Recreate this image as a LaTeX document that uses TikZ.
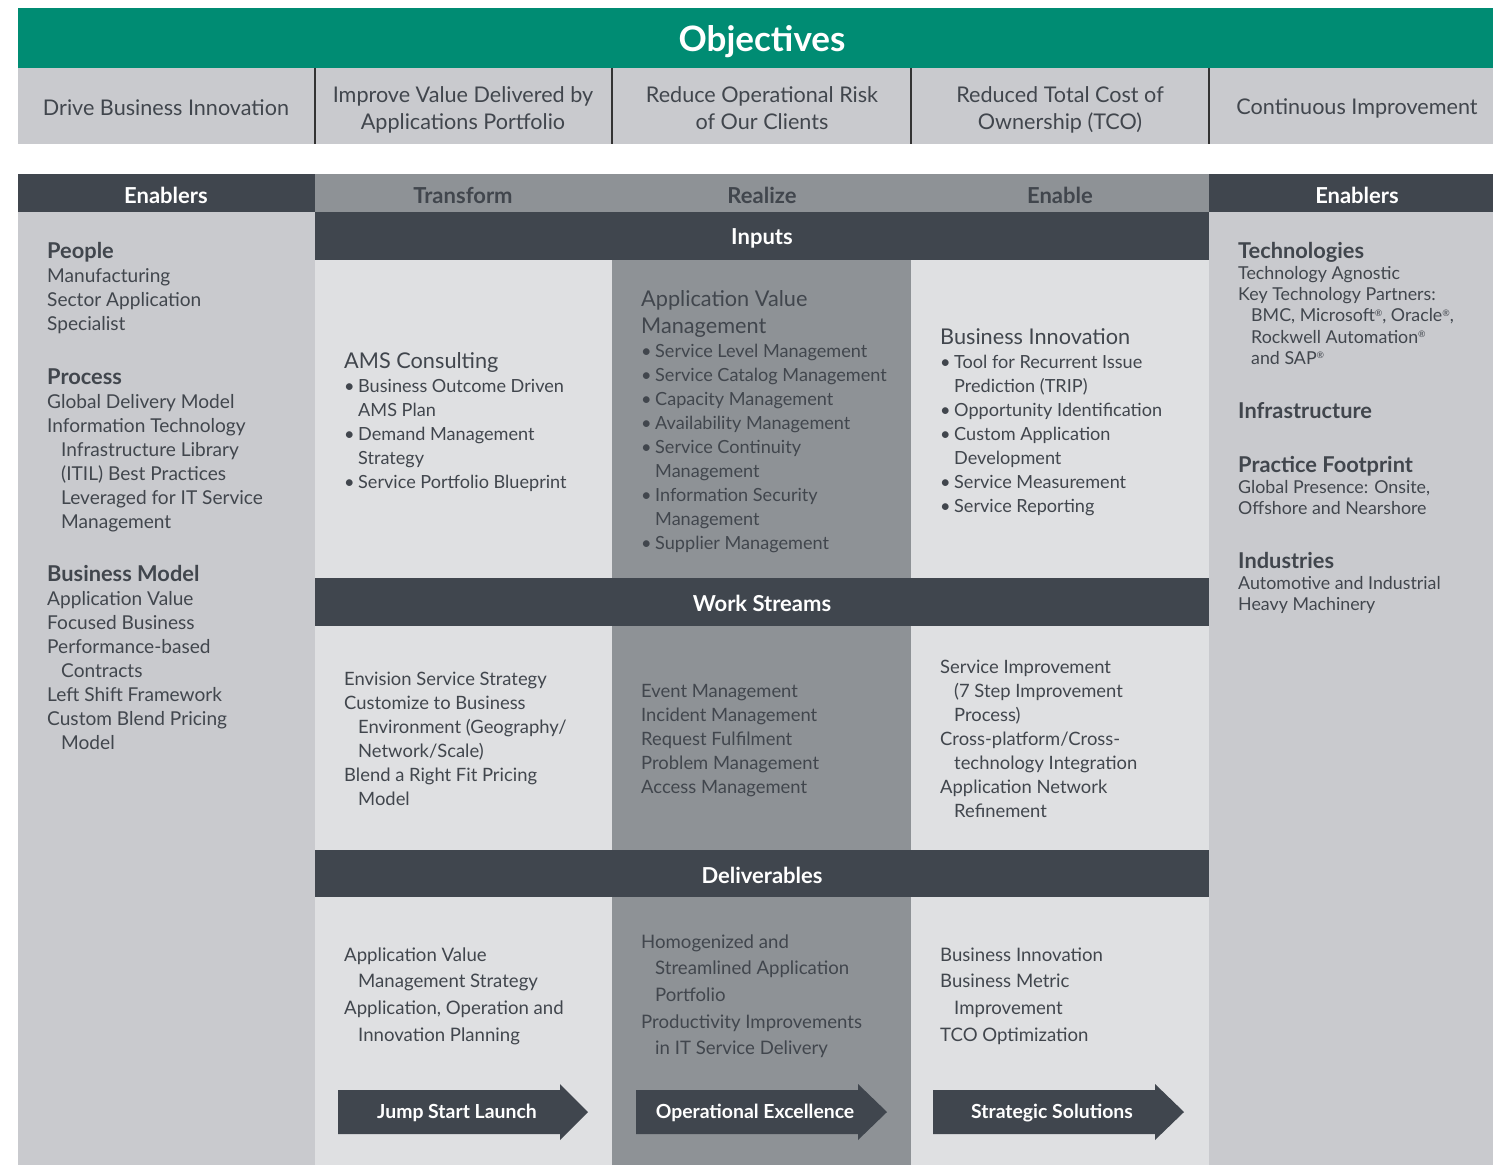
\documentclass[tikz,border=0pt]{standalone}
\usepackage{fontspec}
\setmainfont{Lato}
\definecolor{grn}{RGB}{0,140,115}
\definecolor{dk}{RGB}{64,70,78}
\definecolor{md}{RGB}{142,146,150}
\definecolor{lt}{RGB}{201,202,206}
\definecolor{vl}{RGB}{223,224,226}
\definecolor{tx}{RGB}{65,70,77}
\newcommand\ind{\hspace*{14pt}}
\newcommand\bul{\makebox[14pt][l]{\textbullet}}
\newcommand\reg{\raisebox{5.5pt}{\fontsize{9}{9}\selectfont ®}}
\begin{document}
\begin{tikzpicture}[x=1pt,y=-1pt,
  every node/.style={inner sep=0pt, text=tx},
  objt/.style={align=center, font=\fontsize{21.6}{27}\selectfont},
  hdr/.style={font=\bfseries\fontsize{22}{25}\selectfont},
  hdrw/.style={hdr, text=white},
  body/.style={anchor=north west, align=left, font=\fontsize{18.1}{24}\selectfont, yshift=15.8pt},
  bodyl/.style={body, font=\fontsize{19.1}{24}\selectfont},
  bodys/.style={body, font=\fontsize{18.4}{24}\selectfont},
  bodyw/.style={anchor=north west, align=left, font=\fontsize{18.6}{26.6}\selectfont, yshift=17.6pt},
  small/.style={anchor=north west, align=left, font=\fontsize{17.8}{21.3}\selectfont, yshift=13.9pt},
  head/.style={anchor=base west, font=\bfseries\fontsize{21.8}{26}\selectfont, yshift=-1pt},
  colh/.style={anchor=north west, align=left, font=\fontsize{21.7}{27}\selectfont, yshift=17.9pt},
  arr/.style={fill=dk},
  arrt/.style={text=white, font=\bfseries\fontsize{19.4}{22}\selectfont}]
\useasboundingbox (0,0) rectangle (1493,1165);
\fill[white] (0,0) rectangle (1493,1165);
% top
\fill[grn] (18,8) rectangle (1493,68);
\fill[lt] (18,68) rectangle (1493,144);
\foreach \x in {315,612,911,1209} \draw[line width=1.5pt, black!80] (\x,68) -- (\x,144);
\node[text=white, font=\bfseries\fontsize{35}{40}\selectfont] (obj) at (762,42) {Objectives};
\node[objt] (o1) at (166,108) {Drive Business Innovation};
\node[objt] (o2) at (463,110) {Improve Value Delivered by\\Applications Portfolio};
\node[objt] (o3) at (762,108) {Reduce Operational Risk\\of Our Clients};
\node[objt] (o4) at (1060,110) {Reduced Total Cost of\\Ownership (TCO)};
\node[objt] (o5) at (1357,108) {Continuous Improvement};
% header row
\fill[dk] (18,174) rectangle (315,212);
\fill[md] (315,174) rectangle (1209,212);
\fill[dk] (1209,174) rectangle (1493,212);
\fill[lt] (18,212) rectangle (315,1165);
\fill[lt] (1209,212) rectangle (1493,1165);
\fill[vl] (315,212) rectangle (612,1165);
\fill[md] (612,212) rectangle (911,1165);
\fill[vl] (911,212) rectangle (1209,1165);
\fill[dk] (315,212) rectangle (1209,260);
\fill[dk] (315,578) rectangle (1209,626);
\fill[dk] (315,850) rectangle (1209,897);
\node[hdrw] (en1) at (166,195) {Enablers};
\node[hdr] (tr) at (463,195) {Transform};
\node[hdr] (re) at (762,195) {Realize};
\node[hdr] (en) at (1060,195) {Enable};
\node[hdrw] (en2) at (1357,195) {Enablers};
\node[hdrw] (inp) at (762,238) {Inputs};
\node[hdrw] (ws) at (762,603) {Work Streams};
\node[hdrw] (dl) at (762,875) {Deliverables};
% left enablers
\node[head] (hp) at (47,257) {People};
\node[bodyl] (bp) at (47,281) {\strut Manufacturing\\Sector Application\\Specialist};
\node[head] (hpr) at (47,383) {Process};
\node[bodyl] (bpr) at (47,407) {\strut Global Delivery Model\\Information Technology\\\ind Infrastructure Library\\\ind (ITIL) Best Practices\\\ind Leveraged for IT Service\\\ind Management};
\node[head] (hbm) at (47,580) {Business Model};
\node[bodyl] (bbm) at (47,604) {\strut Application Value\\Focused Business\\Performance-based\\\ind Contracts\\Left Shift Framework\\Custom Blend Pricing\\\ind Model};
% right enablers
\node[head] (ht) at (1238,257) {Technologies};
\node[small] (bt) at (1238,278) {\strut Technology Agnostic\\Key Technology Partners:\\\hspace*{13pt}BMC, Microsoft\reg, Oracle\reg,\\\hspace*{13pt}Rockwell Automation\reg\\\hspace*{13pt}and SAP\reg};
\node[head] (hi) at (1238,417) {Infrastructure};
\node[head] (hpf) at (1238,471) {Practice Footprint};
\node[small] (bpf) at (1238,492) {\strut Global Presence: Onsite,\\Offshore and Nearshore};
\node[head] (hin) at (1238,567) {Industries};
\node[small] (bin) at (1238,588) {\strut Automotive and Industrial\\Heavy Machinery};
% inputs
\node[colh] (c1h) at (344,367) {\strut AMS Consulting};
\node[body] (c1b) at (344,391) {\strut\bul Business Outcome Driven\\\ind AMS Plan\\\bul Demand Management\\\ind Strategy\\\bul Service Portfolio Blueprint};
\node[colh] (c2h) at (641,305) {\strut Application Value\\Management};
\node[body] (c2b) at (641,356) {\strut\bul Service Level Management\\\bul Service Catalog Management\\\bul Capacity Management\\\bul Availability Management\\\bul Service Continuity\\\ind Management\\\bul Information Security\\\ind Management\\\bul Supplier Management};
\node[colh] (c3h) at (940,343) {\strut Business Innovation};
\node[body] (c3b) at (940,367) {\strut\bul Tool for Recurrent Issue\\\ind Prediction (TRIP)\\\bul Opportunity Identification\\\bul Custom Application\\\ind Development\\\bul Service Measurement\\\bul Service Reporting};
% work streams
\node[bodys] (w1) at (344,684) {\strut Envision Service Strategy\\Customize to Business\\\ind Environment (Geography/\\\ind Network/Scale)\\Blend a Right Fit Pricing\\\ind Model};
\node[bodys] (w2) at (641,696) {\strut Event Management\\Incident Management\\Request Fulfilment\\Problem Management\\Access Management};
\node[bodys] (w3) at (940,672) {\strut Service Improvement\\\ind (7 Step Improvement\\\ind Process)\\Cross-platform/Cross-\\\ind technology Integration\\Application Network\\\ind Refinement};
% deliverables
\node[bodyw] (d1) at (344,960) {\strut Application Value\\\ind Management Strategy\\Application, Operation and\\\ind Innovation Planning};
\node[bodyw] (d2) at (641,947) {\strut Homogenized and\\\ind Streamlined Application\\\ind Portfolio\\Productivity Improvements\\\ind in IT Service Delivery};
\node[bodyw] (d3) at (940,960) {\strut Business Innovation\\Business Metric\\\ind Improvement\\TCO Optimization};
% arrows
\fill[arr] (338,1090) -- (560,1090) -- (560,1084) -- (588,1112) -- (560,1140) -- (560,1134) -- (338,1134) -- cycle;
\fill[arr] (636,1090) -- (858,1090) -- (858,1084) -- (887,1112) -- (858,1140) -- (858,1134) -- (636,1134) -- cycle;
\fill[arr] (933,1090) -- (1155,1090) -- (1155,1084) -- (1184,1112) -- (1155,1140) -- (1155,1134) -- (933,1134) -- cycle;
\node[arrt] (a1) at (457,1113) {Jump Start Launch};
\node[arrt] (a2) at (755,1113) {Operational Excellence};
\node[arrt] (a3) at (1052,1113) {Strategic Solutions};
\end{tikzpicture}
\end{document}
